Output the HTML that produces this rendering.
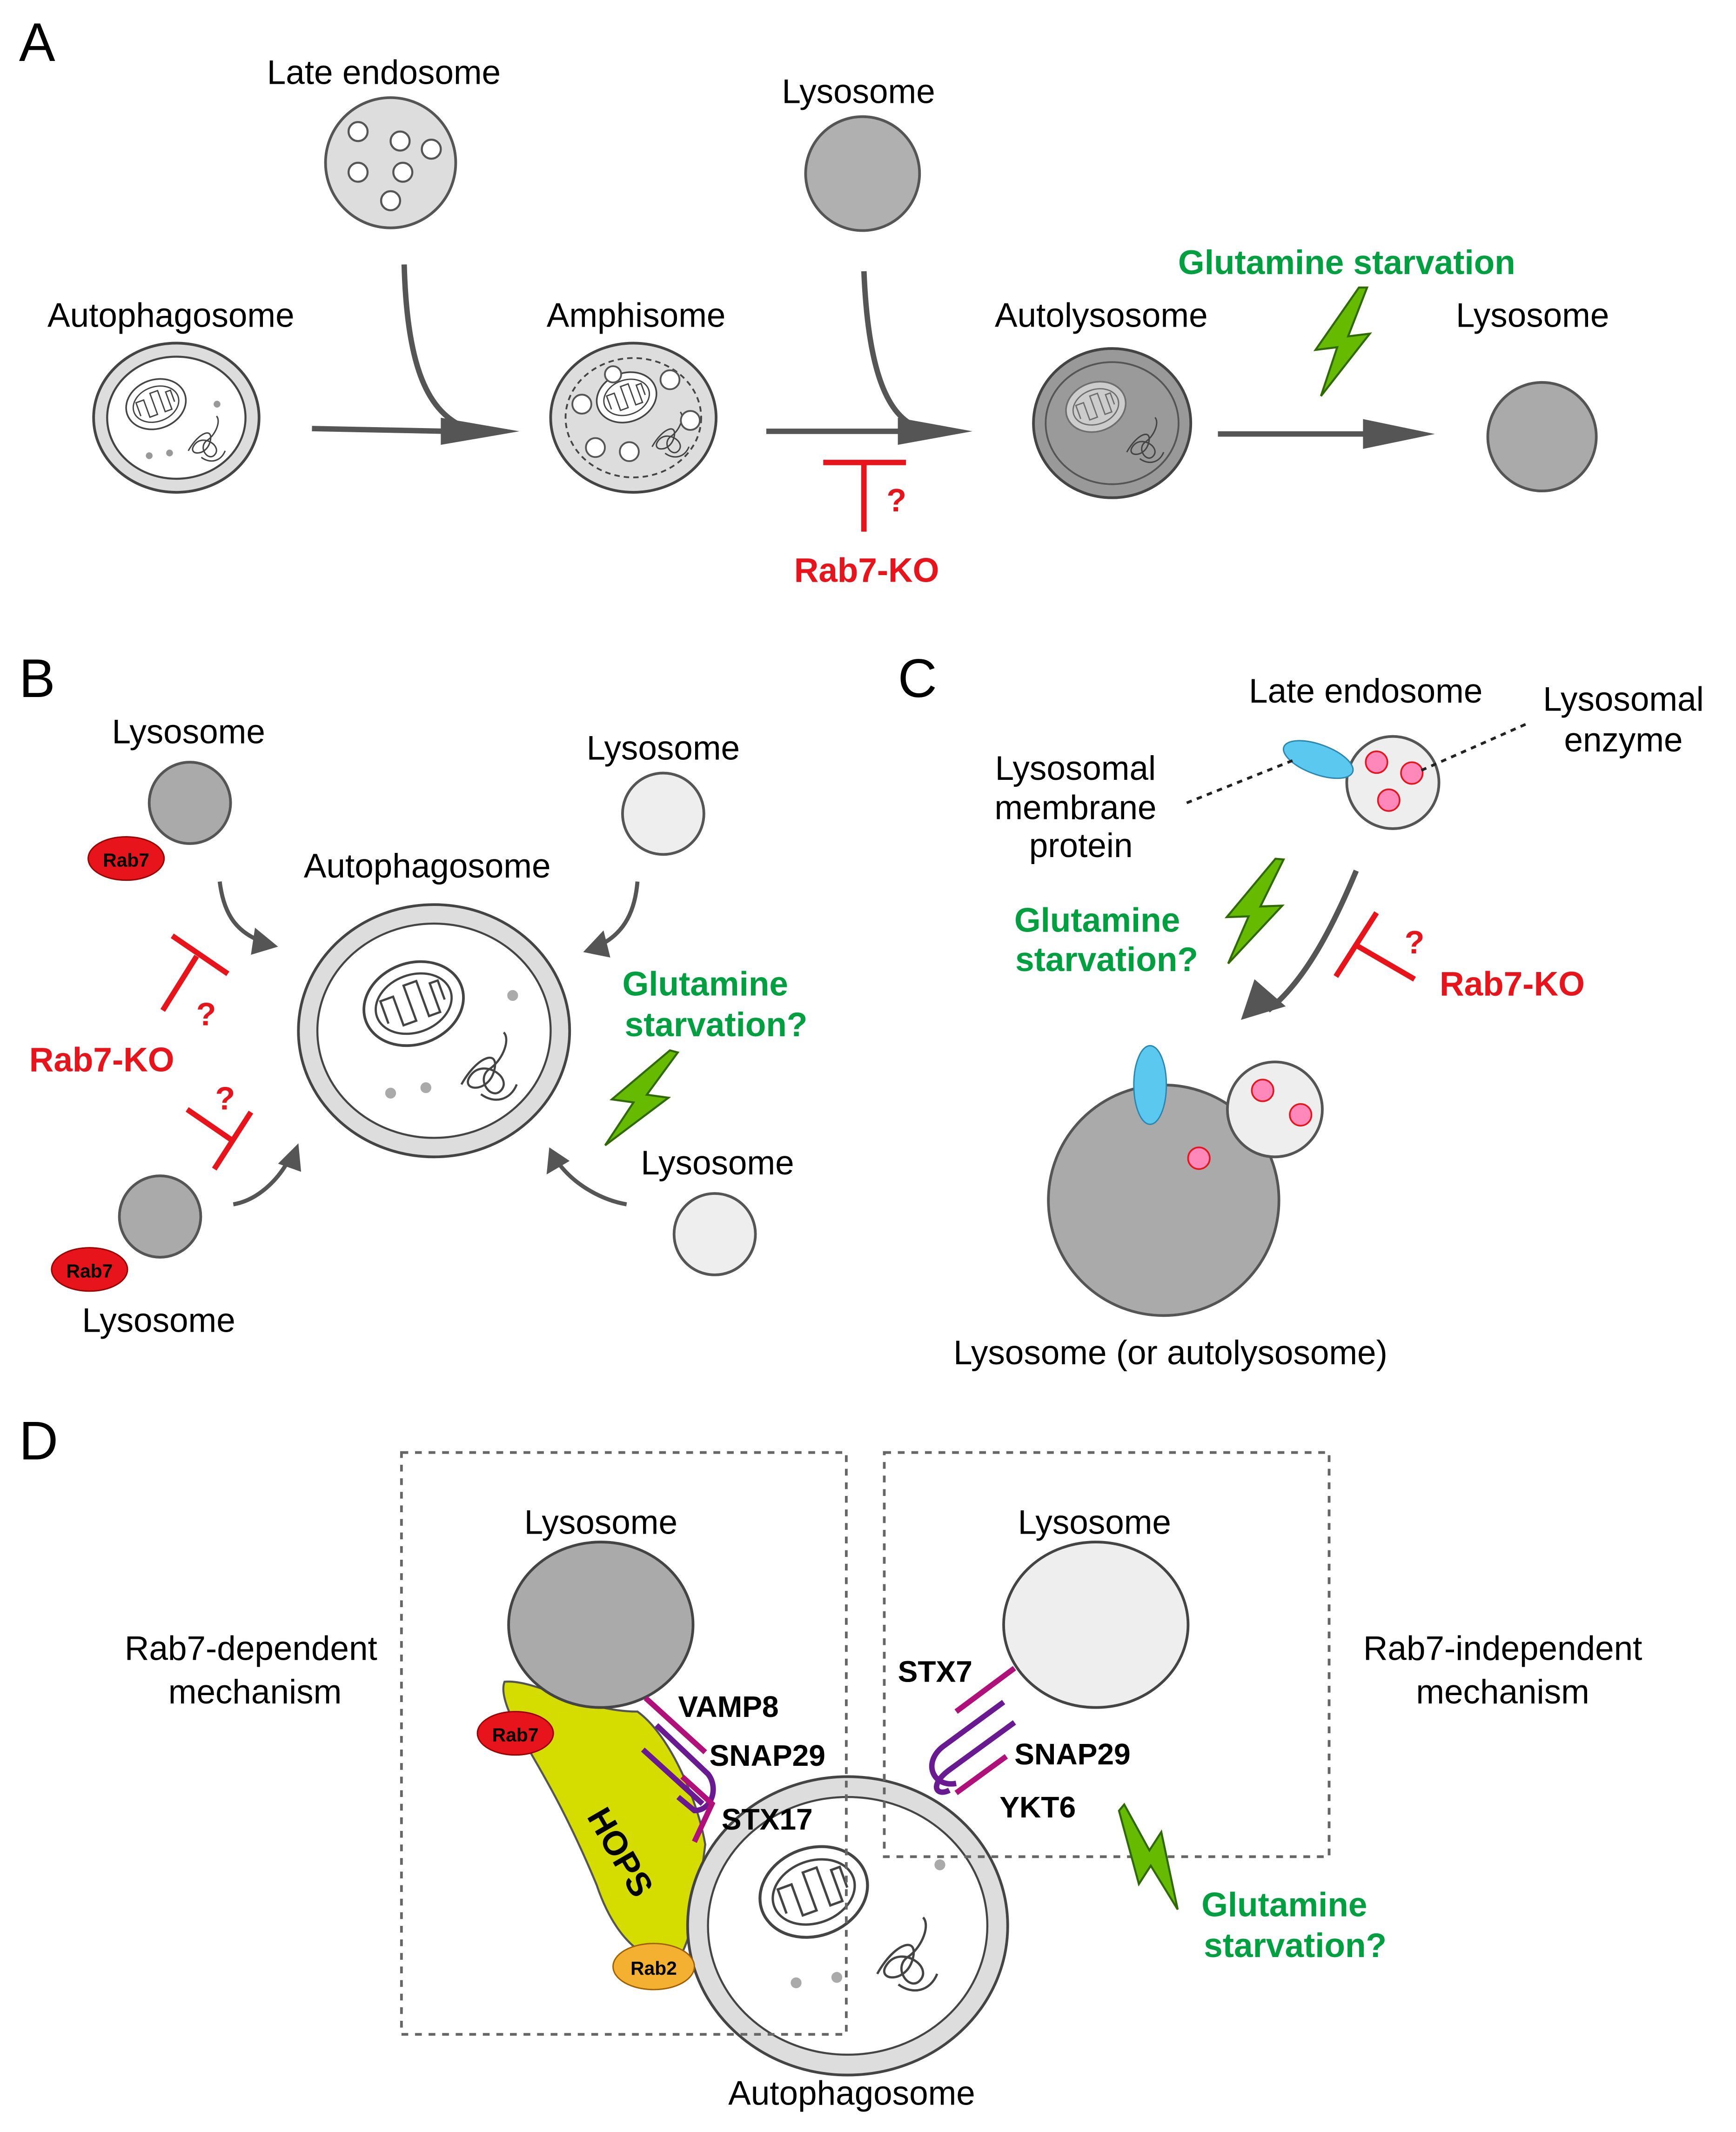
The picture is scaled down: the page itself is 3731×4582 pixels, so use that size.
<!DOCTYPE html>
<html><head><meta charset="utf-8"><style>
html,body{margin:0;padding:0;background:#fff}
svg{display:block}
text{font-family:"Liberation Sans",Arial,sans-serif}
</style></head><body>
<svg width="3731" height="4582" viewBox="0 0 1280 1572" xmlns="http://www.w3.org/2000/svg">
<defs>
<g id="mito">
<ellipse cx="0" cy="0" rx="30" ry="24" fill="#fff" stroke="#444" stroke-width="1.6"/>
<ellipse cx="0" cy="0" rx="23" ry="17" fill="#fff" stroke="#444" stroke-width="1.3"/>
<path d="M-18,6 L-18,-8 L-10,-8 L-10,10 L-2,10 L-2,-12 L6,-12 L6,10 L13,10 L13,-8 L18,-8 L18,4" fill="none" stroke="#444" stroke-width="1.3"/>
</g>
<g id="scrib">
<path d="M-14,8 C-4,-10 10,-14 6,0 C2,14 -16,12 -8,2 C0,-8 18,4 10,12 C4,18 -6,4 4,-2 C12,-8 16,-20 12,-24 M-2,14 C6,20 16,18 20,8" fill="none" stroke="#444" stroke-width="1.3"/>
</g>
<g id="bolt"><polygon points="12,-40 -20,6 -4,4 -16,40 20,-6 4,-4 18,-40" fill="#66bb00" stroke="#2f6a00" stroke-width="1.5"/></g>
</defs>

<!-- Panel A -->
<text x="14" y="45" font-size="40">A</text>
<text x="283" y="62" font-size="25" text-anchor="middle">Late endosome</text>
<circle cx="288" cy="120" r="48" fill="#ddd" stroke="#555" stroke-width="2"/>
<g fill="#fff" stroke="#555" stroke-width="1.5">
<circle cx="264" cy="97" r="7"/><circle cx="295" cy="104" r="7"/><circle cx="318" cy="110" r="7"/>
<circle cx="264" cy="127" r="7"/><circle cx="297" cy="127" r="7"/><circle cx="288" cy="148" r="7"/></g>
<text x="633" y="76" font-size="25" text-anchor="middle">Lysosome</text>
<circle cx="636" cy="128" r="42" fill="#b0b0b0" stroke="#555" stroke-width="2"/>

<text x="126" y="241" font-size="25" text-anchor="middle">Autophagosome</text>
<g transform="translate(130,308)">
<ellipse rx="61" ry="55" fill="#ddd" stroke="#444" stroke-width="2"/>
<ellipse rx="51" ry="45" fill="#fff" stroke="#444" stroke-width="1.5"/>
<use href="#mito" transform="translate(-15,-10) scale(0.75) rotate(-20)"/>
<use href="#scrib" transform="translate(20,18) scale(0.8)"/>
<circle cx="-20" cy="28" r="2.5" fill="#999"/><circle cx="-5" cy="26" r="2.5" fill="#999"/><circle cx="30" cy="-10" r="2.5" fill="#999"/>
</g>
<text x="469" y="241" font-size="25" text-anchor="middle">Amphisome</text>
<g transform="translate(467,308)">
<ellipse rx="61" ry="55" fill="#ddd" stroke="#444" stroke-width="2"/>
<ellipse rx="50" ry="44" fill="none" stroke="#444" stroke-width="1.3" stroke-dasharray="4,3"/>
<use href="#mito" transform="translate(-5,-15) scale(0.75) rotate(-20)"/>
<use href="#scrib" transform="translate(25,15) scale(0.8)"/>
<g fill="#fff" stroke="#555" stroke-width="1.3"><circle cx="-38" cy="-10" r="7"/><circle cx="-28" cy="22" r="7"/><circle cx="-3" cy="25" r="7"/><circle cx="27" cy="-28" r="7"/><circle cx="42" cy="2" r="7"/><circle cx="-15" cy="-32" r="6"/></g>
</g>
<text x="812" y="241" font-size="25" text-anchor="middle">Autolysosome</text>
<g transform="translate(820,312)">
<ellipse rx="58" ry="55" fill="#999" stroke="#444" stroke-width="2"/>
<ellipse rx="49" ry="45" fill="#9a9a9a" stroke="#555" stroke-width="1.3"/>
<g opacity="0.5"><use href="#mito" transform="translate(-12,-12) scale(0.75) rotate(-20)"/></g>
<use href="#scrib" transform="translate(22,15) scale(0.8)"/>
</g>
<text x="1130" y="241" font-size="25" text-anchor="middle">Lysosome</text>
<circle cx="1137" cy="322" r="40" fill="#aaa" stroke="#555" stroke-width="2"/>

<g stroke="#555" fill="none">
<path d="M230,316 L330,318" stroke-width="4"/>
<path d="M298,195 C300,270 315,305 345,316" stroke-width="4"/>
<path d="M565,318 L670,318" stroke-width="4"/>
<path d="M637,200 C640,275 655,310 680,316" stroke-width="4"/>
<path d="M898,320 L1010,320" stroke-width="4"/>
</g>
<polygon points="325,308 383,318 325,328" fill="#555"/>
<polygon points="662,308 717,318 662,328" fill="#555"/>
<polygon points="1005,309 1058,320 1005,331" fill="#555"/>
<text x="993" y="202" font-size="25" font-weight="bold" fill="#00a040" text-anchor="middle">Glutamine starvation</text>
<use href="#bolt" transform="translate(990,252)"/>
<g stroke="#e8141c" stroke-width="4"><line x1="607" y1="341" x2="668" y2="341"/><line x1="637" y1="341" x2="637" y2="392"/></g>
<text x="661" y="377" font-size="24" font-weight="bold" fill="#e8141c" text-anchor="middle">?</text>
<text x="639" y="429" font-size="25" font-weight="bold" fill="#e8141c" text-anchor="middle">Rab7-KO</text>

<!-- Panel B -->
<text x="14" y="514" font-size="40">B</text>
<text x="139" y="548" font-size="25" text-anchor="middle">Lysosome</text>
<circle cx="140" cy="592" r="30" fill="#aaa" stroke="#555" stroke-width="2"/>
<ellipse cx="93" cy="633" rx="28" ry="16" fill="#e8141c" stroke="#900" stroke-width="1"/>
<text x="93" y="639" font-size="14" font-weight="bold" text-anchor="middle">Rab7</text>
<text x="489" y="560" font-size="25" text-anchor="middle">Lysosome</text>
<circle cx="489" cy="600" r="30" fill="#eee" stroke="#555" stroke-width="2"/>
<text x="315" y="647" font-size="25" text-anchor="middle">Autophagosome</text>
<g transform="translate(320,760)">
<ellipse rx="100" ry="93" fill="#ddd" stroke="#444" stroke-width="2"/>
<ellipse rx="86" ry="79" fill="#fff" stroke="#444" stroke-width="1.5"/>
<use href="#mito" transform="translate(-15,-20) scale(1.25) rotate(-20)"/>
<use href="#scrib" transform="translate(37,30) scale(1.2)"/>
<circle cx="-32" cy="46" r="4" fill="#aaa"/><circle cx="-6" cy="42" r="4" fill="#aaa"/><circle cx="58" cy="-26" r="4" fill="#aaa"/>
</g>
<g stroke="#555" stroke-width="3" fill="none">
<path d="M162,650 C165,675 175,688 195,695"/>
<path d="M470,650 C468,675 458,690 440,698"/>
<path d="M172,888 C190,885 205,870 213,855"/>
<path d="M462,888 C445,885 425,875 412,858"/>
</g>
<polygon points="188,684 205,698 185,704" fill="#555"/>
<polygon points="445,686 430,702 450,706" fill="#555"/>
<polygon points="205,858 220,843 222,864" fill="#555"/>
<polygon points="403,866 405,846 420,856" fill="#555"/>
<g stroke="#e8141c" stroke-width="4">
<line x1="120" y1="745" x2="145" y2="705"/><line x1="127" y1="690" x2="168" y2="718"/>
<line x1="138" y1="818" x2="170" y2="840"/><line x1="158" y1="862" x2="185" y2="820"/>
</g>
<text x="152" y="756" font-size="24" font-weight="bold" fill="#e8141c" text-anchor="middle">?</text>
<text x="166" y="818" font-size="24" font-weight="bold" fill="#e8141c" text-anchor="middle">?</text>
<text x="75" y="790" font-size="25" font-weight="bold" fill="#e8141c" text-anchor="middle">Rab7-KO</text>
<text x="520" y="734" font-size="25" font-weight="bold" fill="#00a040" text-anchor="middle">Glutamine</text>
<text x="528" y="764" font-size="25" font-weight="bold" fill="#00a040" text-anchor="middle">starvation?</text>
<use href="#bolt" transform="translate(472,810) rotate(15)"/>
<text x="529" y="866" font-size="25" text-anchor="middle">Lysosome</text>
<circle cx="527" cy="910" r="30" fill="#eee" stroke="#555" stroke-width="2"/>
<circle cx="118" cy="897" r="30" fill="#aaa" stroke="#555" stroke-width="2"/>
<ellipse cx="66" cy="936" rx="28" ry="16" fill="#e8141c" stroke="#900" stroke-width="1"/>
<text x="66" y="942" font-size="14" font-weight="bold" text-anchor="middle">Rab7</text>
<text x="117" y="982" font-size="25" text-anchor="middle">Lysosome</text>

<!-- Panel C -->
<text x="662" y="514" font-size="40">C</text>
<text x="1007" y="518" font-size="25" text-anchor="middle">Late endosome</text>
<circle cx="1027" cy="577" r="34" fill="#eee" stroke="#555" stroke-width="2"/>
<g fill="#ff88bb" stroke="#e8141c" stroke-width="1.2"><circle cx="1015" cy="562" r="8"/><circle cx="1041" cy="570" r="8"/><circle cx="1024" cy="590" r="8"/></g>
<ellipse cx="972" cy="560" rx="27" ry="11" fill="#5bc8f0" stroke="#2a88b0" stroke-width="1" transform="rotate(20,972,560)"/>
<text x="1197" y="524" font-size="25" text-anchor="middle">Lysosomal</text>
<text x="1197" y="554" font-size="25" text-anchor="middle">enzyme</text>
<text x="793" y="575" font-size="25" text-anchor="middle">Lysosomal</text>
<text x="793" y="604" font-size="25" text-anchor="middle">membrane</text>
<text x="797" y="632" font-size="25" text-anchor="middle">protein</text>
<g stroke="#222" stroke-width="2" stroke-dasharray="4,4"><line x1="875" y1="592" x2="955" y2="560"/><line x1="1048" y1="568" x2="1125" y2="534"/></g>
<use href="#bolt" transform="translate(925,672) rotate(5)"/>
<text x="809" y="687" font-size="25" font-weight="bold" fill="#00a040" text-anchor="middle">Glutamine</text>
<text x="816" y="716" font-size="25" font-weight="bold" fill="#00a040" text-anchor="middle">starvation?</text>
<path d="M1000,642 C980,690 960,725 935,745" stroke="#555" stroke-width="4" fill="none"/>
<polygon points="915,752 925,722 948,742" fill="#555"/>
<g stroke="#e8141c" stroke-width="4"><line x1="985" y1="720" x2="1015" y2="673"/><line x1="1000" y1="697" x2="1043" y2="722"/></g>
<text x="1043" y="703" font-size="24" font-weight="bold" fill="#e8141c" text-anchor="middle">?</text>
<text x="1115" y="734" font-size="25" font-weight="bold" fill="#e8141c" text-anchor="middle">Rab7-KO</text>
<circle cx="858" cy="885" r="85" fill="#aaa" stroke="#555" stroke-width="2"/>
<ellipse cx="848" cy="800" rx="12" ry="29" fill="#5bc8f0" stroke="#2a88b0" stroke-width="1"/>
<circle cx="940" cy="818" r="35" fill="#eee" stroke="#555" stroke-width="2"/>
<g fill="#ff88bb" stroke="#e8141c" stroke-width="1.2"><circle cx="931" cy="804" r="8"/><circle cx="959" cy="822" r="8"/><circle cx="884" cy="854" r="8"/></g>
<text x="863" y="1006" font-size="25" text-anchor="middle">Lysosome (or autolysosome)</text>

<!-- Panel D -->
<text x="14" y="1076" font-size="40">D</text>
<text x="185" y="1224" font-size="25" text-anchor="middle">Rab7-dependent</text>
<text x="188" y="1256" font-size="25" text-anchor="middle">mechanism</text>
<text x="1108" y="1224" font-size="25" text-anchor="middle">Rab7-independent</text>
<text x="1108" y="1256" font-size="25" text-anchor="middle">mechanism</text>
<path d="M372,1240 C395,1238 430,1262 470,1262 C495,1280 515,1330 520,1360 C515,1400 510,1430 500,1445 C470,1450 450,1420 440,1390 C415,1330 395,1300 390,1290 C378,1270 368,1250 372,1240 Z" fill="#d4dc00" stroke="#555" stroke-width="1.5"/>
<text x="450" y="1370" font-size="25" font-weight="bold" text-anchor="middle" transform="rotate(60,450,1370)">HOPS</text>
<text x="443" y="1131" font-size="25" text-anchor="middle">Lysosome</text>
<ellipse cx="443" cy="1198" rx="68" ry="61" fill="#aaa" stroke="#444" stroke-width="2"/>
<text x="807" y="1131" font-size="25" text-anchor="middle">Lysosome</text>
<ellipse cx="808" cy="1198" rx="68" ry="61" fill="#eee" stroke="#444" stroke-width="2"/>
<g transform="translate(625,1420)">
<ellipse rx="118" ry="110" fill="#ddd" stroke="#444" stroke-width="2"/>
<ellipse rx="103" ry="95" fill="#fff" stroke="#444" stroke-width="1.5"/>
<use href="#mito" transform="translate(-25,-25) scale(1.35) rotate(-20)"/>
<use href="#scrib" transform="translate(40,25) scale(1.3)"/>
<circle cx="-38" cy="42" r="4" fill="#aaa"/><circle cx="-8" cy="38" r="4" fill="#aaa"/><circle cx="68" cy="-45" r="4" fill="#aaa"/>
</g>
<g fill="none" stroke="#666" stroke-width="2" stroke-dasharray="5,5">
<rect x="296" y="1071" width="328" height="429"/>
<rect x="652" y="1071" width="328" height="298"/>
</g>
<text x="628" y="1552" font-size="25" text-anchor="middle">Autophagosome</text>
<ellipse cx="380" cy="1278" rx="28" ry="16" fill="#e8141c" stroke="#900" stroke-width="1"/>
<text x="380" y="1284" font-size="14" font-weight="bold" text-anchor="middle">Rab7</text>
<ellipse cx="482" cy="1450" rx="30" ry="17" fill="#f4b030" stroke="#a06000" stroke-width="1"/>
<text x="482" y="1456" font-size="14" font-weight="bold" text-anchor="middle">Rab2</text>
<g fill="none" stroke-width="4">
<path d="M476,1252 L520,1292" stroke="#b0107a"/>
<path d="M474,1290 L518,1330" stroke="#6a1a90"/>
<path d="M484,1272 L522,1308 C530,1318 525,1335 512,1335 L500,1325" stroke="#6a1a90"/>
<path d="M503,1310 L525,1330 L512,1358" stroke="#b0107a"/>
<path d="M748,1230 L705,1262" stroke="#b0107a"/>
<path d="M748,1270 L700,1305 C685,1316 690,1325 700,1320" stroke="#6a1a90"/>
<path d="M740,1255 L695,1288 C680,1300 688,1318 705,1315" stroke="#6a1a90"/>
<path d="M742,1295 L705,1322" stroke="#b0107a"/>
</g>
<text x="500" y="1266" font-size="22" font-weight="bold">VAMP8</text>
<text x="523" y="1302" font-size="22" font-weight="bold">SNAP29</text>
<text x="532" y="1349" font-size="22" font-weight="bold">STX17</text>
<text x="662" y="1240" font-size="22" font-weight="bold">STX7</text>
<text x="748" y="1301" font-size="22" font-weight="bold">SNAP29</text>
<text x="737" y="1340" font-size="22" font-weight="bold">YKT6</text>
<use href="#bolt" transform="translate(848,1370) rotate(-50)"/>
<text x="947" y="1413" font-size="25" font-weight="bold" fill="#00a040" text-anchor="middle">Glutamine</text>
<text x="955" y="1443" font-size="25" font-weight="bold" fill="#00a040" text-anchor="middle">starvation?</text>
</svg>
</body></html>
